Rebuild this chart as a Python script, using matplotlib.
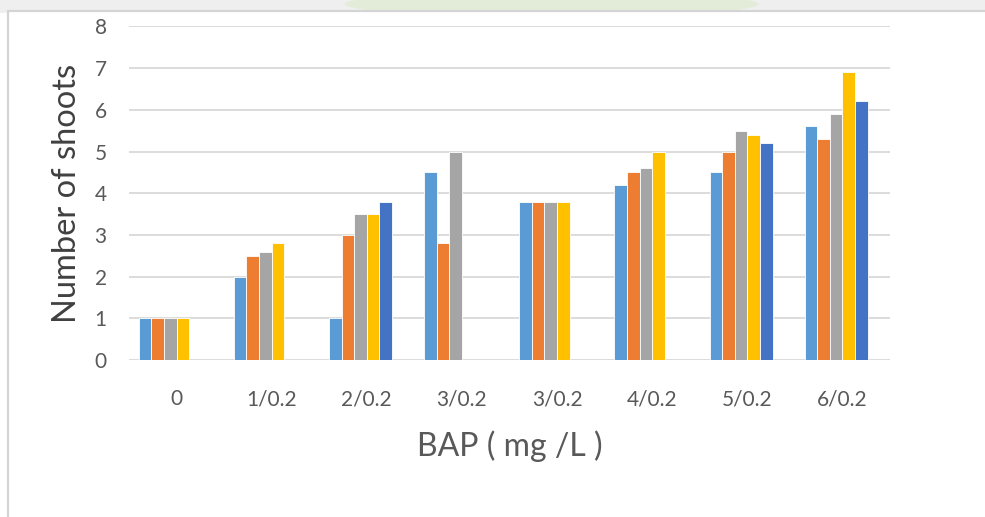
import numpy as np
import matplotlib
matplotlib.use("Agg")
import matplotlib.pyplot as plt
from matplotlib.patches import Rectangle, Ellipse

# Treatments (BAP / second regulator, mg/L)
categories = ["0", "1/0.2", "2/0.2", "3/0.2", "3/0.2", "4/0.2", "5/0.2", "6/0.2"]

# Number of shoots per series (0 = no bar)
series_1 = [1.0, 2.0, 1.0, 4.5, 3.8, 4.2, 4.5, 5.6]
series_2 = [1.0, 2.5, 3.0, 2.8, 3.8, 4.5, 5.0, 5.3]
series_3 = [1.0, 2.6, 3.5, 5.0, 3.8, 4.6, 5.5, 5.9]
series_4 = [1.0, 2.8, 3.5, 0.0, 3.8, 5.0, 5.4, 6.9]
series_5 = [0.0, 0.0, 3.8, 0.0, 0.0, 0.0, 5.2, 6.2]

all_series = [series_1, series_2, series_3, series_4, series_5]
colors = ["#5B9BD5", "#ED7D31", "#A5A5A5", "#FFC000", "#4472C4"]

plt.rcParams["font.family"] = ["Lato", "DejaVu Sans"]
TEXT = "#595959"

fig = plt.figure(figsize=(9.85, 5.17), dpi=100)

# page shading above the chart frame and the faint watermark
fig.patches.append(Rectangle((0, 0.975), 1, 0.03, transform=fig.transFigure,
                             facecolor="#efefef", edgecolor="none", zorder=0))
fig.patches.append(Ellipse((0.56, 0.992), 0.42, 0.05, transform=fig.transFigure,
                           facecolor="#d8ebc4", edgecolor="none", alpha=0.5, zorder=0))
# chart frame
fig.patches.append(Rectangle((0.008, -0.05), 1.1, 1.028, transform=fig.transFigure,
                             facecolor="white", edgecolor="#d4d4d4", linewidth=1.6, zorder=1))

ax = fig.add_axes([129 / 985, 1 - 360 / 517, 761 / 985, (360 - 26.4) / 517])
ax.set_facecolor("none")
ax.set_zorder(5)

n_slots = 6  # one empty slot keeps the clusters offset as in the workbook
width = 0.1325
x = np.arange(len(categories))
for i, (vals, col) in enumerate(zip(all_series, colors)):
    offset = -n_slots / 2 * width + (i + 0.5) * width
    ax.bar(x + offset, vals, width=width, color=col, edgecolor="white",
           linewidth=0.6, zorder=3)

ax.set_xlim(-0.5, len(categories) - 0.5)
ax.set_ylim(0, 8)
ax.set_yticks(range(0, 9))
ax.yaxis.grid(True, color="#d9d9d9", linewidth=1.3, zorder=0)
ax.set_axisbelow(True)
for side in ["top", "right", "left", "bottom"]:
    ax.spines[side].set_visible(False)
ax.tick_params(axis="both", length=0, labelsize=15, colors=TEXT)
ax.tick_params(axis="y", pad=16)
ax.tick_params(axis="x", pad=21)
ax.set_xticks(x)
ax.set_xticklabels(categories)

ax.set_xlabel("BAP ( mg /L )", fontsize=23, color=TEXT, labelpad=15)
ax.set_ylabel("Number of shoots", fontsize=23.5, color="#404040", labelpad=9)

plt.savefig("out.png", dpi=100)
